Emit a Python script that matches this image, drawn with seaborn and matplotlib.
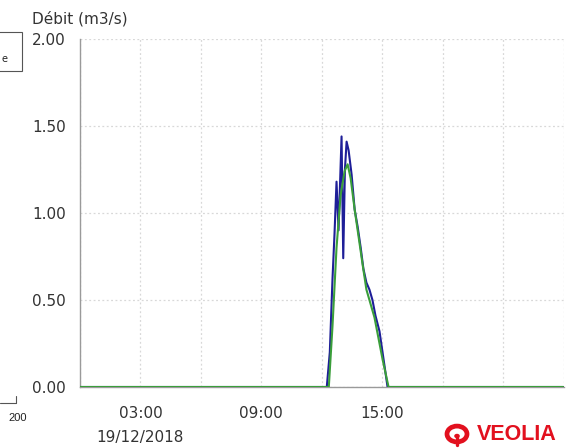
import matplotlib
matplotlib.use("Agg")
import matplotlib.pyplot as plt
import matplotlib.dates as mdates
from matplotlib.ticker import MultipleLocator, FuncFormatter
from matplotlib.patches import Rectangle, Circle
from matplotlib.lines import Line2D
import pandas as pd
import seaborn as sns

# ---- data ----
day = "2018-12-19"
blue_times = ["00:00", "12:15", "12:24", "12:32", "12:38", "12:44", "12:50", "12:59", "13:04",
              "13:09", "13:14", "13:20", "13:29", "13:38", "13:47", "13:56", "14:04", "14:13",
              "14:22", "14:31", "14:40", "14:52", "15:01", "15:10", "15:16", "23:59"]
blue_values = [0.0, 0.0, 0.20, 0.62, 0.88, 1.18, 0.90, 1.44, 0.74,
               1.25, 1.41, 1.36, 1.22, 1.02, 0.92, 0.80, 0.68, 0.60,
               0.56, 0.50, 0.41, 0.32, 0.20, 0.08, 0.0, 0.0]
green_times = ["00:00", "12:21", "12:32", "12:44", "12:56", "13:08", "13:17", "13:26", "13:38",
               "13:50", "14:02", "14:13", "14:25", "14:37", "14:49", "15:01", "15:19", "23:59"]
green_values = [0.0, 0.0, 0.35, 0.80, 1.10, 1.24, 1.28, 1.20, 1.02,
                0.86, 0.70, 0.56, 0.48, 0.40, 0.28, 0.16, 0.0, 0.0]
y_label = "Débit (m3/s)"
date_label = "19/12/2018"
labelled_hours = [3, 9, 15]

df = pd.concat([
    pd.DataFrame({"t": pd.to_datetime([f"{day} {t}" for t in blue_times]),
                  "v": blue_values, "s": "blue"}),
    pd.DataFrame({"t": pd.to_datetime([f"{day} {t}" for t in green_times]),
                  "v": green_values, "s": "green"}),
])

sns.set_style("white")
plt.rcParams["font.family"] = ["DejaVu Sans"]
txt = "#333333"

fig = plt.figure(figsize=(5.66, 4.48), dpi=100)
ax = fig.add_axes([80 / 566, 1 - 387 / 448, (563.5 - 80) / 566, (387 - 39) / 448])

sns.lineplot(data=df, x="t", y="v", hue="s", palette={"blue": "#1e1e98", "green": "#3a9e3a"},
             linewidth=1.5, legend=False, ax=ax, zorder=3)

ax.set_xlim(pd.Timestamp(f"{day} 00:00"), pd.Timestamp("2018-12-20 00:00"))
ax.set_ylim(0, 2.0)
ax.set_xlabel("")
ax.set_ylabel("")

ax.yaxis.set_major_locator(MultipleLocator(0.5))
ax.yaxis.set_minor_locator(MultipleLocator(0.125))
ax.yaxis.set_major_formatter(FuncFormatter(lambda v, p: f"{v:.2f}"))

ax.xaxis.set_major_locator(mdates.HourLocator(byhour=range(0, 24, 3)))
ax.xaxis.set_minor_locator(mdates.HourLocator())

def fmt(v, p):
    d = mdates.num2date(v)
    if d.hour in labelled_hours and d.minute == 0:
        s = d.strftime("%H:%M")
        if d.hour == labelled_hours[0]:
            s += "\n" + date_label
        return s
    return ""
ax.xaxis.set_major_formatter(FuncFormatter(fmt))

for sp in ["top", "right"]:
    ax.spines[sp].set_visible(False)
for sp in ["left", "bottom"]:
    ax.spines[sp].set_color("#9a9a9a")
    ax.spines[sp].set_linewidth(1.0)

ax.tick_params(axis="y", which="major", length=7, width=1, color="#8a8a8a",
               labelsize=11, labelcolor=txt, pad=3)
ax.tick_params(axis="y", which="minor", length=3.5, width=1, color="#8a8a8a")
ax.tick_params(axis="x", which="major", length=8, width=1, color="#8a8a8a",
               labelsize=11, labelcolor=txt, pad=6)
ax.tick_params(axis="x", which="minor", length=5, width=1, color="#8a8a8a")
for lab in ax.get_xticklabels():
    lab.set_linespacing(1.75)

ax.grid(True, which="major", axis="both", color="#d8d8d8", linestyle=(0, (1.5, 2)), linewidth=0.9)
ax.set_axisbelow(True)

fig.text(32 / 566, 1 - 19 / 448, y_label, fontsize=11, color=txt, va="center", ha="left")

# cropped artifacts at the left edge
fig.add_artist(Rectangle((-5 / 566, 1 - 71 / 448), 27 / 566, 39 / 448, transform=fig.transFigure,
                         fill=False, edgecolor="#555555", linewidth=0.8))
fig.text(1 / 566, 1 - 59 / 448, "e", fontsize=7, color="#222222", ha="left", va="center")
fig.add_artist(Line2D([0, 16 / 566], [1 - 403 / 448, 1 - 403 / 448], transform=fig.transFigure,
                      color="#555555", linewidth=0.8))
fig.add_artist(Line2D([16 / 566, 16 / 566], [1 - 403 / 448, 1 - 396 / 448], transform=fig.transFigure,
                      color="#555555", linewidth=0.8))
fig.text(8 / 566, 1 - 418 / 448, "200", fontsize=8, color="#222222", ha="left", va="center",
         family=["Liberation Sans"])

# Veolia logo
red = "#e2101e"
fig.add_artist(Circle((457 / 566, 1 - 434 / 448), 10 / 566, transform=fig.transFigure,
                      fill=False, edgecolor=red, linewidth=3.4))
fig.add_artist(Circle((457 / 566, 1 - 436 / 448), 2.8 / 566, transform=fig.transFigure,
                      color=red, linewidth=0))
fig.add_artist(Line2D([457 / 566, 457 / 566], [1 - 436 / 448, 1 - 445 / 448], transform=fig.transFigure,
                      color=red, linewidth=2.4))
fig.text(477 / 566, 1 - 434 / 448, "VEOLIA", fontsize=15.5, fontweight="bold", color=red,
         ha="left", va="center", family=["Liberation Sans"])

fig.savefig("out.png", dpi=100)
